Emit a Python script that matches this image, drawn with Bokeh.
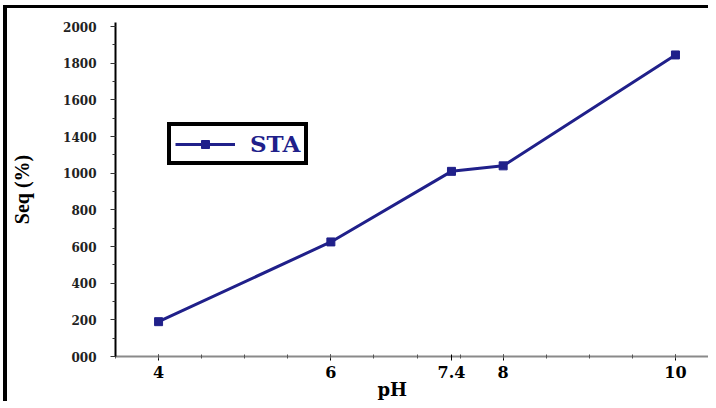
from bokeh.plotting import figure
from bokeh.models import Range1d, FixedTicker, Title, ColumnDataSource
from bokeh.embed import file_html
from bokeh.resources import INLINE

# data
ph = [4, 6, 7.4, 8, 10]
seq = [190, 625, 1010, 1040, 1645]
x_ticks = [4, 6, 7.4, 8, 10]
x_minor = [3.5, 4, 4.5, 5, 5.5, 6, 6.5, 7, 7.5, 8, 8.5, 9, 9.5, 10, 10.5]
y_ticks = [0, 200, 400, 600, 800, 1000, 1200, 1400, 1600, 1800]
y_tick_labels = ["000", "200", "400", "600", "800", "1000", "1400", "1600", "1800", "2000"]
y_minor = list(range(0, 1801, 100))

NAVY = "#20208a"

p = figure(width=705, height=396, output_backend="svg", toolbar_location=None,
           x_range=Range1d(3.5, 10.43), y_range=Range1d(0, 1822))
p.min_border_left = 108
p.min_border_top = 14
p.min_border_right = 0
p.min_border_bottom = 48
p.outline_line_color = None
p.background_fill_color = "white"
p.border_fill_color = "white"
p.xgrid.visible = False
p.ygrid.visible = False
p.styles = {"border-left": "4px solid black", "border-top": "3px solid black",
            "margin-left": "3px", "margin-top": "5px"}

src = ColumnDataSource(dict(x=ph, y=seq))
p.line("x", "y", source=src, line_color=NAVY, line_width=3, legend_label="STA")
p.scatter("x", "y", source=src, marker="square", size=8, color=NAVY, legend_label="STA")

# x axis
xa = p.xaxis[0]
xa.ticker = FixedTicker(ticks=x_ticks, minor_ticks=x_minor)
xa.axis_line_color = "#8a8a8a"
xa.axis_line_width = 2
xa.major_tick_in = 2
xa.major_tick_out = 4
xa.minor_tick_in = 2
xa.minor_tick_out = 2
xa.major_tick_line_color = "black"
xa.minor_tick_line_color = "#555555"
xa.major_label_text_font = "DejaVu Serif"
xa.major_label_text_font_style = "bold"
xa.major_label_text_font_size = "16px"
xa.major_label_text_color = "black"
xa.major_label_standoff = 5

# x axis title, placed under the tick labels
p.add_layout(Title(text="pH", align="left", offset=262, standoff=-7,
                   text_font="DejaVu Serif", text_font_style="bold",
                   text_font_size="18px", text_color="black"), "below")

# y axis
ya = p.yaxis[0]
ya.ticker = FixedTicker(ticks=y_ticks, minor_ticks=y_minor)
ya.major_label_overrides = {t: s for t, s in zip(y_ticks, y_tick_labels)}
ya.axis_line_color = "black"
ya.axis_line_width = 2
ya.major_tick_in = 0
ya.major_tick_out = 5
ya.minor_tick_in = 0
ya.minor_tick_out = 3
ya.major_tick_line_color = "#333333"
ya.minor_tick_line_color = "#333333"
ya.major_label_text_font = "DejaVu Serif"
ya.major_label_text_font_style = "bold"
ya.major_label_text_font_size = "12px"
ya.major_label_text_color = "#222222"
ya.major_label_standoff = 14
ya.axis_label = "Seq (%)"
ya.axis_label_text_font = "Liberation Serif"
ya.axis_label_text_font_style = "bold"
ya.axis_label_text_font_size = "20px"
ya.axis_label_text_color = "black"
ya.axis_label_standoff = 27

lg = p.legend[0]
lg.location = (52, 191)
lg.border_line_color = "black"
lg.border_line_alpha = 1
lg.border_line_width = 4
lg.padding = 4
lg.margin = 0
lg.spacing = 0
lg.glyph_width = 60
lg.glyph_height = 20
lg.label_height = 20
lg.label_standoff = 15
lg.label_text_font = "DejaVu Serif"
lg.label_text_font_style = "bold"
lg.label_text_font_size = "23px"
lg.label_text_color = NAVY
lg.background_fill_alpha = 1

open("out.html", "w").write(file_html(p, INLINE))
